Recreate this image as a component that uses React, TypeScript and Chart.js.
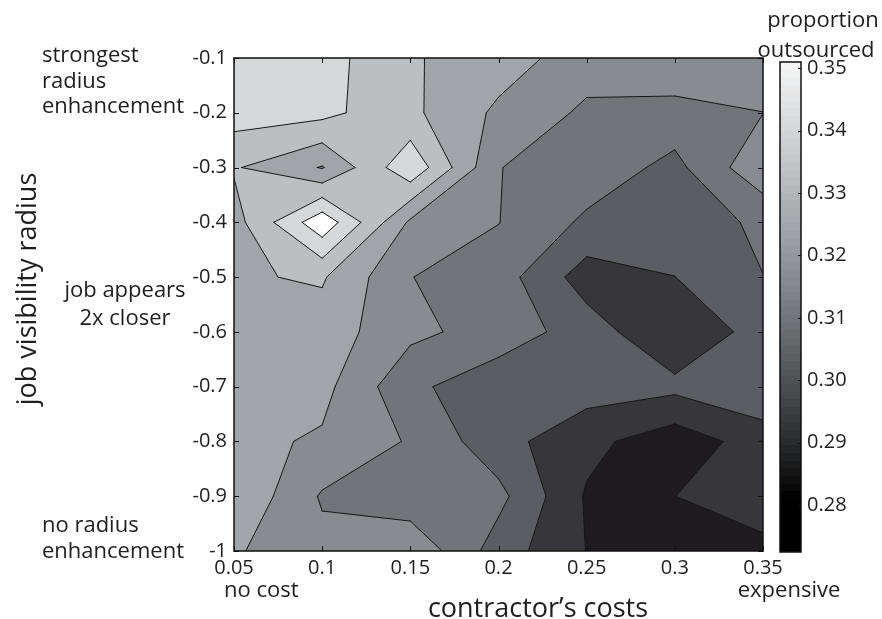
import { useEffect, useRef } from 'react';
import { Chart, registerables } from 'chart.js';

Chart.register(...registerables);

// Grid coordinates
const COSTS = [0.05, 0.1, 0.15, 0.2, 0.25, 0.3, 0.35];
const RADII = [-0.1, -0.2, -0.3, -0.4, -0.5, -0.6, -0.7, -0.8, -0.9, -1.0];

// Proportion outsourced, one array per radius row, ordered by cost
const P_R01 = [0.3395, 0.3390, 0.3269, 0.3213, 0.3120, 0.3162, 0.3137];
const P_R02 = [0.3396, 0.3379, 0.3280, 0.3150, 0.3059, 0.3038, 0.3075];
const P_R03 = [0.3269, 0.3162, 0.3424, 0.3078, 0.3038, 0.2958, 0.3147];
const P_R04 = [0.3223, 0.3509, 0.3152, 0.3078, 0.2967, 0.2941, 0.2999];
const P_R05 = [0.3250, 0.3270, 0.3078, 0.3028, 0.2847, 0.2891, 0.2983];
const P_R06 = [0.3223, 0.3218, 0.3099, 0.3037, 0.2940, 0.2806, 0.2935];
const P_R07 = [0.3205, 0.3196, 0.3005, 0.2923, 0.2936, 0.2917, 0.2966];
const P_R08 = [0.3193, 0.3156, 0.3067, 0.2926, 0.2826, 0.2745, 0.2845];
const P_R09 = [0.3250, 0.3066, 0.3013, 0.3011, 0.2790, 0.2799, 0.2887];
const P_R10 = [0.3178, 0.3103, 0.3152, 0.2940, 0.2798, 0.2726, 0.2757];
const ROWS = [P_R01, P_R02, P_R03, P_R04, P_R05, P_R06, P_R07, P_R08, P_R09, P_R10];

// Contour levels and the fill of each band (below first level ... above last level)
const LEVELS = [0.28, 0.2892, 0.2984, 0.3076, 0.3168, 0.326, 0.3352, 0.3444];
const BAND_COLORS = ['#1f1c1f', '#37373b', '#5b5d62', '#72747a', '#888b90', '#a1a4a8', '#bcbfc2', '#d6d7d9', '#ffffff'];

// Tick labels
const X_TICK_LABELS = ['0.05', '0.1', '0.15', '0.2', '0.25', '0.3', '0.35'];
const Y_TICK_LABELS = ['-0.1', '-0.2', '-0.3', '-0.4', '-0.5', '-0.6', '-0.7', '-0.8', '-0.9', '-1'];
const CB_TICKS = [0.28, 0.29, 0.3, 0.31, 0.32, 0.33, 0.34, 0.35];
const CB_TICK_LABELS = ['0.28', '0.29', '0.30', '0.31', '0.32', '0.33', '0.34', '0.35'];

// Colour scale range and the axis range that carries it
const CB_MIN = 0.2725;
const CB_MAX = 0.351;
const CB_AXIS_MIN = 0.27266;
const CB_AXIS_MAX = 0.35164;
const CB_STEPS = 64;

const FONT = '"Open Sans", "DejaVu Sans", sans-serif';
const INK = '#1e1e1e';

function grayAt(v: number): string {
  const t = Math.min(1, Math.max(0, (v - 0.2815) / (CB_MAX - 0.2815)));
  const g = 246 * Math.pow(t, 0.85);
  const s = 4 * t * (1 - t);
  const c = (n: number) => Math.max(0, Math.min(255, Math.round(n)));
  return `rgb(${c(g - 2 * s)},${c(g + 1 * s)},${c(g + 5 * s)})`;
}

type GridPt = { px: number; py: number; v: number };
type OutPt = { x: number; y: number; exit?: boolean; entry?: boolean };

function crossing(P: GridPt, Q: GridPt, L: number) {
  const t = (L - P.v) / (Q.v - P.v);
  return { x: P.px + (Q.px - P.px) * t, y: P.py + (Q.py - P.py) * t };
}

// Part of one grid cell where the value is at least L, plus the contour pieces
function clipCell(c: GridPt[], L: number): { polys: OutPt[][]; segs: [OutPt, OutPt][] } {
  const ins = c.map((p) => p.v >= L);
  const saddle = ins[0] === ins[2] && ins[1] === ins[3] && ins[0] !== ins[1];
  const centre = (c[0].v + c[1].v + c[2].v + c[3].v) / 4;
  const polys: OutPt[][] = [];
  const segs: [OutPt, OutPt][] = [];
  if (saddle && centre < L) {
    for (let m = 0; m < 4; m++) {
      if (!ins[m]) continue;
      const prev = c[(m + 3) % 4];
      const next = c[(m + 1) % 4];
      const a = crossing(prev, c[m], L);
      const b = crossing(c[m], next, L);
      polys.push([a, { x: c[m].px, y: c[m].py }, b]);
      segs.push([b, a]);
    }
    return { polys, segs };
  }
  const out: OutPt[] = [];
  for (let e = 0; e < 4; e++) {
    const P = c[e];
    const Q = c[(e + 1) % 4];
    const pin = ins[e];
    const qin = ins[(e + 1) % 4];
    if (pin && qin) out.push({ x: Q.px, y: Q.py });
    else if (pin && !qin) out.push({ ...crossing(P, Q, L), exit: true });
    else if (!pin && qin) {
      out.push({ ...crossing(P, Q, L), entry: true });
      out.push({ x: Q.px, y: Q.py });
    }
  }
  if (out.length >= 3) {
    polys.push(out);
    for (let n = 0; n < out.length; n++) {
      const p = out[n];
      const q = out[(n + 1) % out.length];
      if (p.exit && q.entry) segs.push([p, q]);
    }
  }
  return { polys, segs };
}

const contourPlugin = {
  id: 'contourFill',
  beforeDatasetsDraw(chart: any) {
    const { ctx, chartArea: a, scales } = chart;
    const xs = scales.x;
    const ys = scales.y;
    const pts = chart.data.datasets[0].data as { x: number; y: number; v: number }[];
    const nx = COSTS.length;
    const ny = RADII.length;
    const g: GridPt[][] = [];
    for (let j = 0; j < ny; j++) {
      g.push([]);
      for (let i = 0; i < nx; i++) {
        const p = pts[j * nx + i];
        g[j].push({ px: xs.getPixelForValue(p.x), py: ys.getPixelForValue(p.y), v: p.v });
      }
    }
    ctx.save();
    ctx.beginPath();
    ctx.rect(a.left, a.top, a.right - a.left, a.bottom - a.top);
    ctx.clip();
    ctx.fillStyle = BAND_COLORS[0];
    ctx.fillRect(a.left, a.top, a.right - a.left, a.bottom - a.top);

    const segments: [OutPt, OutPt][] = [];
    LEVELS.forEach((L, k) => {
      ctx.beginPath();
      for (let j = 0; j < ny - 1; j++) {
        for (let i = 0; i < nx - 1; i++) {
          const cell = [g[j][i], g[j][i + 1], g[j + 1][i + 1], g[j + 1][i]];
          const { polys, segs } = clipCell(cell, L);
          polys.forEach((poly) => {
            ctx.moveTo(poly[0].x, poly[0].y);
            for (let n = 1; n < poly.length; n++) ctx.lineTo(poly[n].x, poly[n].y);
            ctx.closePath();
          });
          segments.push(...segs);
        }
      }
      ctx.fillStyle = BAND_COLORS[k + 1];
      ctx.fill('nonzero');
    });

    ctx.beginPath();
    segments.forEach(([p, q]) => {
      ctx.moveTo(p.x, p.y);
      ctx.lineTo(q.x, q.y);
    });
    ctx.strokeStyle = '#161616';
    ctx.lineWidth = 1;
    ctx.lineJoin = 'round';
    ctx.lineCap = 'round';
    ctx.stroke();
    ctx.restore();
  },
  afterDatasetsDraw(chart: any) {
    const { ctx, chartArea: a, scales } = chart;
    ctx.save();
    ctx.strokeStyle = '#111';
    ctx.lineWidth = 1.5;
    ctx.strokeRect(a.left, a.top, a.right - a.left, a.bottom - a.top);
    ctx.lineWidth = 1;
    ctx.beginPath();
    const tl = 5;
    COSTS.forEach((c) => {
      const px = Math.round(scales.x.getPixelForValue(c)) + 0.5;
      ctx.moveTo(px, a.bottom);
      ctx.lineTo(px, a.bottom - tl);
      ctx.moveTo(px, a.top);
      ctx.lineTo(px, a.top + tl);
    });
    RADII.forEach((r) => {
      const py = Math.round(scales.y.getPixelForValue(r)) + 0.5;
      ctx.moveTo(a.left, py);
      ctx.lineTo(a.left + tl, py);
      ctx.moveTo(a.right, py);
      ctx.lineTo(a.right - tl, py);
    });
    ctx.stroke();
    ctx.restore();
  },
  afterDraw(chart: any) {
    const { ctx, scales } = chart;
    const cb = scales.cb;
    // colour bar
    const x0 = 780;
    const x1 = 801;
    const yTop = cb.getPixelForValue(CB_MAX);
    const yBot = cb.getPixelForValue(CB_MIN);
    ctx.save();
    for (let s = 0; s < CB_STEPS; s++) {
      const v0 = CB_MIN + ((CB_MAX - CB_MIN) * s) / CB_STEPS;
      const v1 = CB_MIN + ((CB_MAX - CB_MIN) * (s + 1)) / CB_STEPS;
      const p0 = cb.getPixelForValue(v0);
      const p1 = cb.getPixelForValue(v1);
      ctx.fillStyle = grayAt((v0 + v1) / 2);
      ctx.fillRect(x0, Math.floor(p1), x1 - x0, Math.ceil(p0) - Math.floor(p1));
    }
    ctx.strokeStyle = '#111';
    ctx.lineWidth = 1.5;
    ctx.strokeRect(x0, yTop, x1 - x0, yBot - yTop);
    ctx.lineWidth = 1;
    ctx.beginPath();
    CB_TICKS.forEach((t) => {
      const py = Math.round(cb.getPixelForValue(t)) + 0.5;
      ctx.moveTo(x1, py);
      ctx.lineTo(x1 - 3, py);
    });
    ctx.stroke();

    // text annotations
    ctx.fillStyle = INK;
    ctx.textBaseline = 'alphabetic';
    ctx.font = `22px ${FONT}`;
    const notes: [string, number, number, CanvasTextAlign][] = [
      ['strongest', 42, 62, 'left'],
      ['radius', 42, 88, 'left'],
      ['enhancement', 42, 113, 'left'],
      ['job appears', 125, 297, 'center'],
      ['2x closer', 125, 325, 'center'],
      ['no radius', 42, 532, 'left'],
      ['enhancement', 42, 558, 'left'],
      ['no cost', 224, 597, 'left'],
      ['expensive', 789, 597, 'center'],
      ['proportion', 823, 27, 'center'],
      ['outsourced', 816, 57, 'center'],
    ];
    notes.forEach(([t, x, y, al]) => {
      ctx.textAlign = al;
      ctx.fillText(t, x, y);
    });

    // axis titles
    ctx.font = `27px ${FONT}`;
    ctx.textAlign = 'center';
    ctx.fillText("contractor\u2019s costs", 538, 617);
    ctx.translate(36, 289);
    ctx.rotate(-Math.PI / 2);
    ctx.fillText('job visibility radius', 0, 0);
    ctx.restore();
  },
};

export default function App() {
  const ref = useRef<HTMLCanvasElement>(null);

  useEffect(() => {
    const data: { x: number; y: number; v: number }[] = [];
    RADII.forEach((r, j) => {
      COSTS.forEach((c, i) => data.push({ x: c, y: r, v: ROWS[j][i] }));
    });

    const tickFont = { family: FONT, size: 20 };
    const chart = new Chart(ref.current as HTMLCanvasElement, {
      type: 'scatter',
      data: {
        datasets: [
          {
            label: 'proportion outsourced',
            data,
            pointRadius: 0,
            pointHoverRadius: 0,
          } as any,
        ],
      },
      options: {
        responsive: false,
        animation: false,
        events: [],
        layout: { padding: { top: 58, left: 0, right: 0, bottom: 0 } },
        plugins: {
          legend: { display: false },
          tooltip: { enabled: false },
          title: { display: false },
        },
        scales: {
          x: {
            type: 'linear',
            min: COSTS[0],
            max: COSTS[COSTS.length - 1],
            grid: { display: false, drawTicks: false },
            border: { display: false },
            afterFit: (s: any) => {
              s.height = 68;
            },
            afterBuildTicks: (s: any) => {
              s.ticks = COSTS.map((v) => ({ value: v }));
            },
            ticks: {
              autoSkip: false,
              maxRotation: 0,
              padding: 5,
              color: INK,
              font: tickFont,
              callback: (_v: any, i: number) => X_TICK_LABELS[i],
            },
          },
          y: {
            type: 'linear',
            min: RADII[RADII.length - 1],
            max: RADII[0],
            grid: { display: false, drawTicks: false },
            border: { display: false },
            afterFit: (s: any) => {
              s.width = 234;
            },
            afterBuildTicks: (s: any) => {
              s.ticks = RADII.map((v) => ({ value: v }));
            },
            ticks: {
              autoSkip: false,
              padding: 7,
              color: INK,
              font: tickFont,
              callback: (_v: any, i: number) => Y_TICK_LABELS[i],
            },
          },
          cb: {
            type: 'linear',
            position: 'right',
            min: CB_AXIS_MIN,
            max: CB_AXIS_MAX,
            grid: { display: false, drawTicks: false },
            border: { display: false },
            afterFit: (s: any) => {
              s.width = 119;
            },
            afterBuildTicks: (s: any) => {
              s.ticks = CB_TICKS.map((v) => ({ value: v }));
            },
            ticks: {
              autoSkip: false,
              padding: 44,
              color: INK,
              font: tickFont,
              callback: (_v: any, i: number) => CB_TICK_LABELS[i],
            },
          },
        },
      } as any,
      plugins: [contourPlugin],
    });
    return () => chart.destroy();
  }, []);

  return (
    <div style={{ position: 'fixed', left: 0, top: 0, width: 882, height: 619, background: '#fff' }}>
      <canvas ref={ref} width={882} height={619} style={{ display: 'block' }} />
    </div>
  );
}
